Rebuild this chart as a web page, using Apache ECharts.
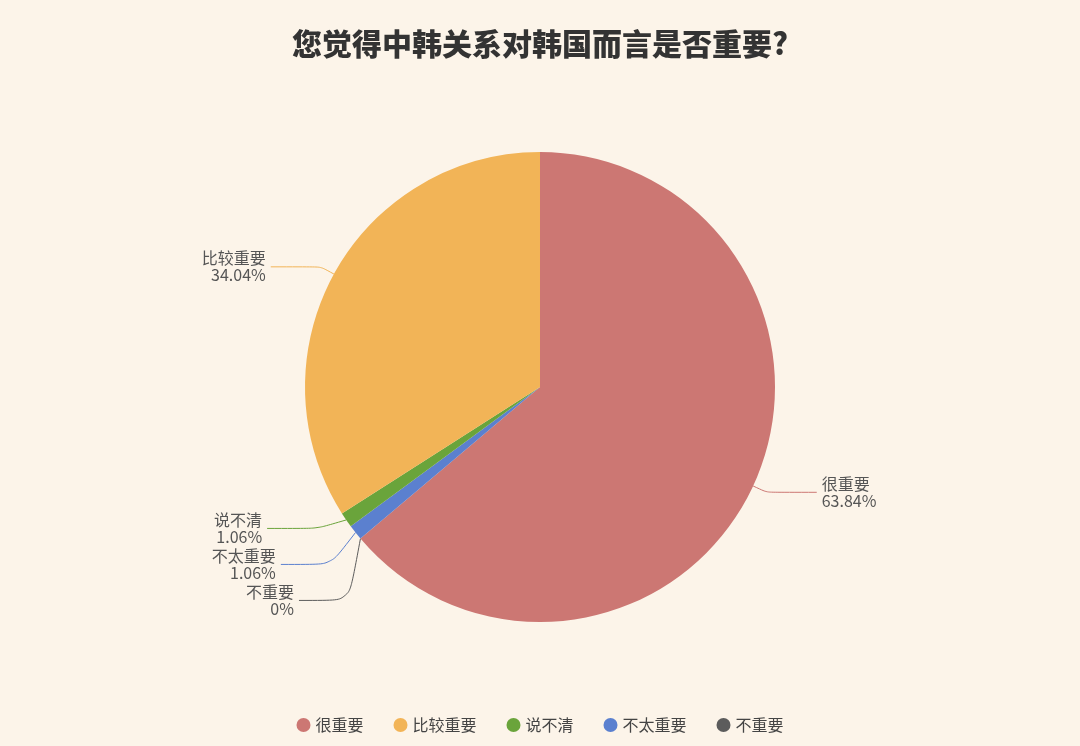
<!DOCTYPE html>
<html><head><meta charset="utf-8">
<script src="https://cdn.jsdelivr.net/npm/echarts@6/dist/echarts.min.js"></script>
<style>html,body{margin:0;padding:0;background:#fcf4e9;}#c{width:1080px;height:746px;}</style>
</head><body><div id="c"></div>
<script>
const title = '您觉得中韩关系对韩国而言是否重要?';
const legendOrder = ['很重要', '比较重要', '说不清', '不太重要', '不重要'];
const categories = ['很重要', '不重要', '不太重要', '说不清', '比较重要'];
const values = [63.84, 0, 1.06, 1.06, 34.04];
const colors = ['#cc7773', '#5c5c5c', '#5b80cf', '#6aa43b', '#f2b457'];

const chart = echarts.init(document.getElementById('c'));
chart.setOption({
  backgroundColor: '#fcf4e9',
  title: {
    text: title, left: 'center', top: 24,
    textStyle: { fontFamily: 'Noto Sans CJK SC', fontSize: 30, fontWeight: 900, color: '#333' }
  },
  legend: {
    data: legendOrder, bottom: 8, left: 'center', icon: 'circle', itemWidth: 14, itemHeight: 14, itemGap: 30,
    textStyle: { fontFamily: 'Noto Sans CJK SC', fontSize: 16, color: '#444' }
  },
  series: [{
    type: 'pie', center: [540, 387], radius: 235, startAngle: 90, clockwise: true,
    data: categories.map((n, i) => ({ name: n, value: values[i], itemStyle: { color: colors[i] } })),
    label: {
      formatter: '{b}\n{d}%', fontFamily: 'Noto Sans CJK SC', fontSize: 16, color: '#555', lineHeight: 17
    },
    labelLine: { length: 15, length2: 50, smooth: 0.2, lineStyle: { width: 1 } },
    emphasis: { disabled: true }
  }]
});
</script></body></html>
